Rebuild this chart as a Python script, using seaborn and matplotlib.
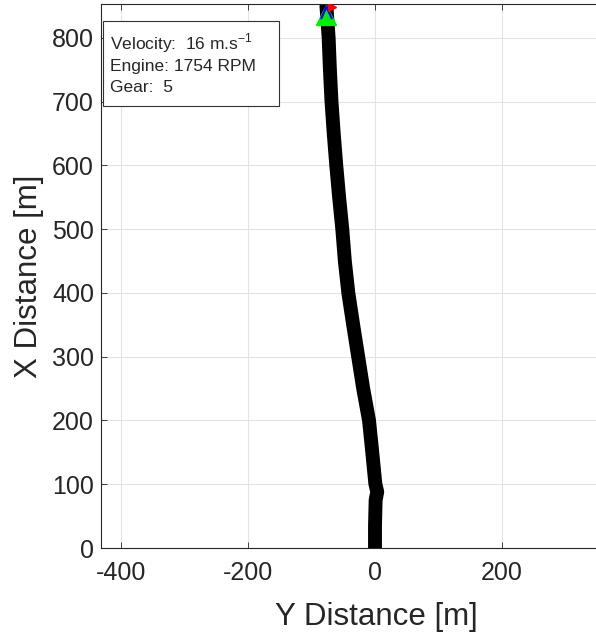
import numpy as np
import pandas as pd
import matplotlib
matplotlib.use("Agg")
import matplotlib.pyplot as plt
from matplotlib.patches import Rectangle
import seaborn as sns

# trajectory (Y distance, X distance)
y_dist = [0, 0, 1, 3.5, 0.5, -4.7, -9.4, -18.6, -26.5, -34.4, -42, -47.5, -51.5, -56.5, -61, -65, -68.5, -71, -73, -76.5]
x_dist = [0, 35, 75, 88, 101, 154, 200, 250, 300, 350, 400, 450, 500, 550, 600, 650, 700, 750, 800, 850]

marker_y = -76.5
marker_x = 836

info_lines = ["Velocity:  16 m.s$^{\\mathregular{-1}}$", "Engine: 1754 RPM", "Gear:  5"]
x_ticks = [-400, -200, 0, 200]
y_ticks = [0, 100, 200, 300, 400, 500, 600, 700, 800]

sns.set_theme(style="white")
plt.rcParams['font.family'] = ['Liberation Sans', 'DejaVu Sans']
plt.rcParams['axes.unicode_minus'] = False
plt.rcParams['mathtext.fontset'] = 'custom'
plt.rcParams['mathtext.rm'] = 'Liberation Sans'

W, H = 596, 636
fig = plt.figure(figsize=(W/100, H/100), dpi=100)
ax_left, ax_bottom, ax_top = 101, 548, 4
ax_right = 608
ax = fig.add_axes([ax_left/W, 1-ax_bottom/H, (ax_right-ax_left)/W, (ax_bottom-ax_top)/H])

df = pd.DataFrame({"Y": y_dist, "X": x_dist})
sns.lineplot(data=df, x="Y", y="X", sort=False, estimator=None, color="black",
             linewidth=10, solid_capstyle="round", solid_joinstyle="round", ax=ax)

ax.plot([marker_y], [marker_x], '^', color='#00ee00', ms=14, zorder=6, linestyle='none')
ax.plot([marker_y], [marker_x+5], marker=r'$\wedge$', color='blue', ms=9, zorder=7, linestyle='none')
ax.plot([marker_y+8], [x_dist[-1]-2], marker='>', color='red', ms=6, zorder=7, linestyle='none')

px_per_unit = 127/200
x0 = -400 - (121-ax_left)/px_per_unit
ax.set_xlim(x0, x0 + (ax_right-ax_left)/px_per_unit)
ax.set_ylim(0, 853)
ax.set_xticks(x_ticks)
ax.set_yticks(y_ticks)
ax.grid(True, color='#e3e3e3', linewidth=0.8)
ax.tick_params(axis='both', labelsize=18, colors='#262626', direction='in', length=4,
               left=True, bottom=True, top=True, width=0.6)
ax.tick_params(axis='x', pad=9)
ax.tick_params(axis='y', pad=5)
for lab in ax.get_xticklabels() + ax.get_yticklabels():
    lab.set_color('#262626')
for s in ['left', 'bottom', 'top']:
    ax.spines[s].set_color('#262626')
    ax.spines[s].set_linewidth(0.8)
ax.spines['right'].set_visible(False)
ax.set_xlabel("Y Distance [m]", fontsize=22.5, color='#262626')
ax.set_ylabel("X Distance [m]", fontsize=22.5, color='#262626', labelpad=6)
ax.xaxis.label.set_va('top')
ax.xaxis.set_label_coords((376-ax_left)/(ax_right-ax_left), -(602-ax_bottom)/(ax_bottom-ax_top))

fig.add_artist(Rectangle((103/W, 1-106/H), 176/W, 85/H, transform=fig.transFigure,
                         facecolor='white', edgecolor='#333333', linewidth=0.8, zorder=10))
for txt, yc in zip(info_lines, [43, 66, 88]):
    fig.text(110.5/W, 1-yc/H, txt, fontsize=12.5, color='#262626', va='center', ha='left', zorder=11)

fig.savefig("out.png", dpi=100)
